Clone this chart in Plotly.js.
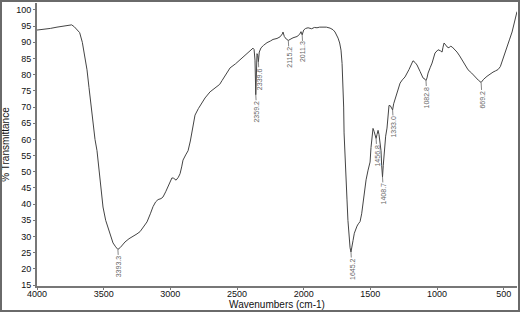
<!DOCTYPE html>
<html>
<head>
<meta charset="utf-8">
<script src="https://cdn.plot.ly/plotly-3.0.1.min.js"></script>
<style>
html,body{margin:0;padding:0;background:#fff;}
#wrap{position:relative;width:520px;height:312px;}
#chart{width:520px;height:312px;}
#frame{position:absolute;left:0;top:0;width:520px;height:312px;box-sizing:border-box;border:2px solid #6a6a6a;pointer-events:none;}
</style>
</head>
<body>
<div id="wrap"><div id="chart"></div><div id="frame"></div></div>
<script>
// Wavenumbers (cm-1)
const wavenumbers = [4000,3950,3900,3850,3800,3760,3740,3720,3700,3680,3660,3640,3625,3610,3600,3580,3565,3550,3527,3505,3485,3467,3450,3430,3410,3393.3,3375,3360,3340,3310,3280,3250,3227,3200,3175,3150,3130,3110,3092,3070,3055,3035,3017,3000,2988,2975,2957,2940,2927,2915,2905,2885,2867,2850,2837,2815,2790,2777,2740,2702,2670,2650,2630,2612,2580,2552,2510,2477,2440,2402,2380,2372,2365,2359.2,2355,2350,2345,2339.6,2333,2320,2300,2275,2250,2230,2200,2177,2160,2155,2145,2130,2115.2,2100,2080,2050,2030,2020,2011.3,2000,1985,1967,1940,1920,1900,1880,1855,1830,1802,1780,1765,1750,1742,1730,1720,1712,1705,1700,1697,1690,1682,1675,1668,1660,1652,1645.2,1638,1630,1620,1610,1600,1590,1577,1565,1555,1543,1532,1517,1502,1495,1487,1480,1472,1465,1456.8,1450,1442,1435,1428,1420,1415,1408.7,1403,1395,1385,1375,1367,1360,1350,1340,1333,1325,1310,1300,1277,1260,1240,1210,1195,1180,1165,1150,1127,1105,1090,1082.8,1075,1067,1050,1037,1015,1000,992,975,962,955,947,935,925,910,900,887,870,850,830,812,790,767,740,715,690,669.2,650,625,600,580,560,542,525,512,495,475,455,437,420,400];
// % Transmittance
const transmittance = [93.8,94.0,94.3,94.7,95.0,95.3,95.4,94.8,94.0,93.0,90.0,85.5,81.5,76,72,65,60,56.5,46.5,39.1,35,32.5,30,28,26.8,26.0,26.6,27.5,28.3,29.3,30.0,30.8,31.5,33,34.5,37,39.2,40.7,41.4,41.7,42.2,43.8,45.4,47.2,48.1,48.0,47.4,48.3,49.4,51.5,53.6,55.2,56.5,59.5,63,67.5,69.5,70.3,72.8,74.7,75.8,76.3,77,78.2,80.3,82.1,83.4,84.6,85.9,87.1,88.2,87.8,84.5,73.8,80,86.5,86,84.0,87,88.3,89.1,89.9,90.4,90.9,91.2,91.7,92.6,93.2,91.8,91.0,90.6,91,91.4,91.8,92.5,93.3,92.3,93.8,94.3,94.5,94.2,94.6,94.5,94.7,94.8,94.7,94.4,93.9,93.2,92.2,91.3,89.8,87.6,83.5,77.4,70,62,56.7,48.5,41.3,35,29.5,26.5,25.2,26.5,28.7,31,32.3,33.2,33.9,34.6,37,40.3,44,47.5,50.5,53,57.5,61.5,63.4,62.5,61,60.3,61.5,62.8,61.5,59,56.5,52,48.4,52,57,61,63.5,68.5,70.5,70.4,69.6,69.1,71,72.8,74.3,77.4,78.4,79.3,81.6,83.0,84.3,83.8,83.0,81,79,78.6,78.2,79,80.5,82.3,83.6,86.7,87.5,87.7,87.4,87.0,88.5,89.8,89.2,88.6,88.3,88.8,88.6,88,87,85.8,84.6,83,81.5,80.5,79.3,78.3,77.6,78.6,79.5,80.3,80.8,81.2,81.6,82.5,84.2,86.5,88.4,91,93.2,96,99.5];
// Peak labels
const peakWn = [3393.3,2359.2,2339.6,2115.2,2011.3,1645.2,1456.8,1408.7,1333.0,1082.8,669.2];
const peakT = [26.0,73.8,84.0,90.6,92.3,25.2,60.3,48.4,69.1,78.2,77.6];
const peakLabels = ["3393.3","2359.2","2339.6","2115.2","2011.3","1645.2","1456.8","1408.7","1333.0","1082.8","669.2"];
// Axis ticks
const xTicks = [4000,3500,3000,2500,2000,1500,1000,500];
const yTicks = [15,20,25,30,35,40,45,50,55,60,65,70,75,80,85,90,95,100];

const FONT = '"Liberation Sans",Arial,sans-serif';

const annotations = peakWn.map((w,i)=>({
  x: w, y: peakT[i], xref:'x', yref:'y',
  text: peakLabels[i], textangle: -90,
  font:{family:FONT,size:7,color:'#666'},
  showarrow:true, arrowhead:0, arrowwidth:0.8, arrowcolor:'#666',
  ax:1, ay:17, borderpad:0
}));

const trace = {
  x: wavenumbers, y: transmittance, type:'scatter', mode:'lines',
  line:{color:'#444', width:1}, hoverinfo:'skip'
};

const layout = {
  width:520, height:312,
  margin:{l:37, r:3, t:3, b:26},
  paper_bgcolor:'#fff', plot_bgcolor:'#fff',
  showlegend:false,
  font:{family:FONT, size:9, color:'#111'},
  xaxis:{
    range:[4000,400], tickvals:xTicks, ticktext:xTicks.map(String),
    showgrid:false, zeroline:false, showline:true, linecolor:'#777', linewidth:2,
    ticks:'outside', ticklen:2, tickcolor:'#777', ticklabelstandoff:-4,
    tickfont:{family:FONT,size:9,color:'#111'},
    title:{text:'Wavenumbers (cm-1)', font:{family:FONT,size:10,color:'#111'}, standoff:0}
  },
  yaxis:{
    range:[14.69,102.16], tickvals:yTicks, ticktext:yTicks.map(String),
    showgrid:false, zeroline:false, showline:true, linecolor:'#777', linewidth:2,
    ticks:'outside', ticklen:2, tickcolor:'#777',
    tickfont:{family:FONT,size:9,color:'#111'},
    title:{text:'% Transmittance', font:{family:FONT,size:10,color:'#111'}, standoff:6}
  },
  annotations: annotations
};

Plotly.newPlot('chart',[trace],layout,{displayModeBar:false,staticPlot:true});
</script>
</body>
</html>
